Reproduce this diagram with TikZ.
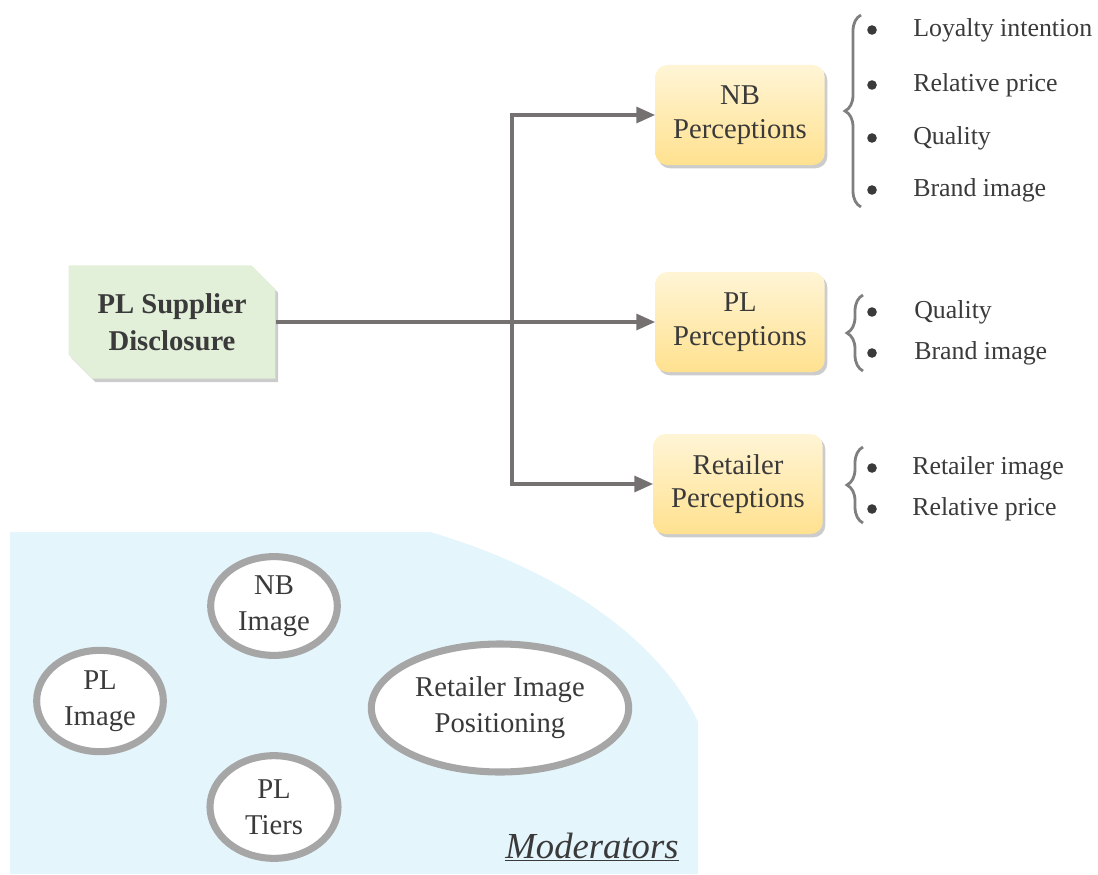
\documentclass[tikz,border=0pt]{standalone}
\usepackage{fontspec}
\setmainfont{Liberation Serif}
\usetikzlibrary{shapes.misc,shapes.geometric,shadows,arrows.meta,decorations.pathreplacing}
\definecolor{txtgray}{HTML}{3A3A3A}
\definecolor{linegray}{HTML}{767171}
\definecolor{bracegray}{HTML}{7F7F7F}
\definecolor{suppgreen}{HTML}{E2EFD9}
\definecolor{perctop}{HTML}{FFF5D6}
\definecolor{percbot}{HTML}{FFE18F}
\definecolor{modblue}{HTML}{E4F5FC}
\definecolor{ringgray}{HTML}{A6A6A6}

\tikzset{
  percbox/.style={rectangle, rounded corners=9pt, minimum width=127pt, minimum height=75pt,
    top color=perctop, bottom color=percbot, align=center, text=txtgray,
    font=\fontsize{21.5}{25}\selectfont,
    drop shadow={opacity=0.4, shadow xshift=2pt, shadow yshift=-2.5pt}},
  suppbox/.style={chamfered rectangle, chamfered rectangle corners={north east,south west},
    chamfered rectangle xsep=9pt, chamfered rectangle ysep=9pt,
    minimum width=155pt, minimum height=85pt, fill=suppgreen, align=center, text=txtgray,
    font=\fontsize{21.5}{28}\selectfont\bfseries,
    drop shadow={opacity=0.4, shadow xshift=2pt, shadow yshift=-2.5pt}},
  ring/.style={ellipse, draw=ringgray, line width=5.3pt, fill=white, align=center, text=txtgray,
    font=\fontsize{21.5}{27}\selectfont},
  flow/.style={draw=linegray, line width=2.3pt, -{Triangle[length=14pt,width=12pt]}},
  curly/.style={draw=bracegray, line width=2.1pt, decorate, decoration={brace,amplitude=12pt}},
  item/.style={anchor=west, text=txtgray, inner sep=0pt, font=\fontsize{19.4}{22}\selectfont},
}

\begin{document}
\begin{tikzpicture}[x=0.75pt,y=-0.75pt]
    \useasboundingbox (0,0) rectangle (1098,874);

    \begin{scope}
	\fill[modblue] (10,532) -- (430,532) .. controls (560,570) and (660,640) .. (698,722)
	    -- (698,874) -- (10,874) -- cycle;
	\node[ring, minimum width=95pt, minimum height=71pt] (nbimg) at (274,606) {NB\\Image};
	\node[ring, minimum width=95pt, minimum height=76pt] (plimg) at (100,701) {PL\\Image};
	\node[ring, minimum width=96pt, minimum height=77pt] (pltier) at (274,807) {PL\\Tiers};
	\node[ring, minimum width=193pt, minimum height=96pt] (rtpos) at (500,708) {Retailer Image\\Positioning};
	\node[text=txtgray, font=\fontsize{27.5}{30}\selectfont\itshape] (mods) at (592,847) {\underline{Moderators}};
    \end{scope}

    \node[suppbox] (supp) at (172,322) {PL Supplier\\Disclosure};
    \node[percbox] (nbp) at (740,115) {NB\\Perceptions};
    \node[percbox] (plp) at (740,322) {PL\\Perceptions};
    \node[percbox] (rtp) at (738,484) {Retailer\\Perceptions};

    \coordinate (split) at (512,322);
    \draw[flow] (supp.east) -- (plp.west);
    \draw[flow] (split) |- (nbp.west);
    \draw[flow] (split) |- (rtp.west);

    \begin{scope}
	\draw[curly] (861,207) -- (861,15);
	\foreach \y/\t [count=\i] in {30/Loyalty intention, 85/Relative price, 138/Quality, 190/Brand image} {
	    \fill[txtgray] (872,\y) circle (3.6pt);
	    \node[item] (nbitem\i) at (913,\y) {\t};
	}
    \end{scope}
    \begin{scope}
	\draw[curly] (863,371) -- (863,295);
	\foreach \y/\t [count=\i] in {312/Quality, 353/Brand image} {
	    \fill[txtgray] (872,\y) circle (3.6pt);
	    \node[item] (plitem\i) at (914,\y) {\t};
	}
    \end{scope}
    \begin{scope}
	\draw[curly] (863,523) -- (863,447);
	\foreach \y/\t [count=\i] in {468/Retailer image, 509/Relative price} {
	    \fill[txtgray] (872,\y) circle (3.6pt);
	    \node[item] (rtitem\i) at (912,\y) {\t};
	}
    \end{scope}
\end{tikzpicture}
\end{document}
